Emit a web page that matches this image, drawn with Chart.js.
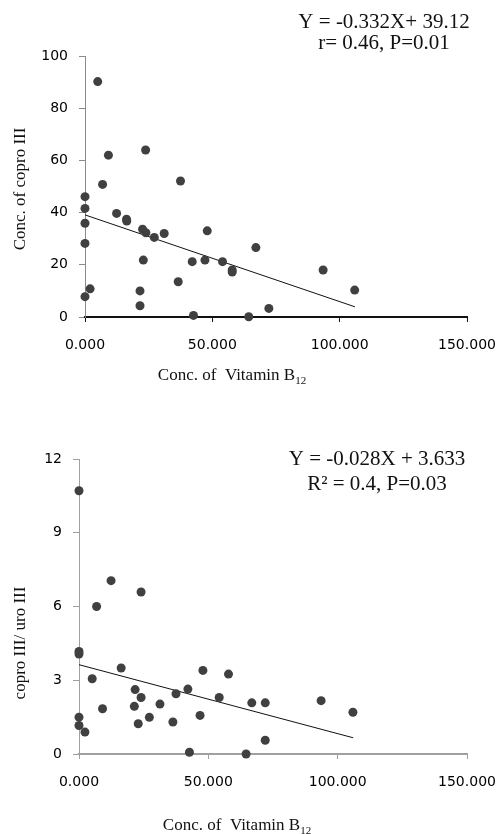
<!DOCTYPE html>
<html>
<head>
<meta charset="utf-8">
<script src="https://cdn.jsdelivr.net/npm/chart.js@4.4.1/dist/chart.umd.min.js"></script>
<style>
  html, body { margin: 0; padding: 0; background: #fff; }
  body { width: 498px; height: 834px; position: relative; overflow: hidden; }
  canvas { position: absolute; left: 0; }
  #top-chart { top: 0; }
  #bottom-chart { top: 417px; }
</style>
</head>
<body>
<canvas id="top-chart" width="498" height="417"></canvas>
<canvas id="bottom-chart" width="498" height="417"></canvas>
<script>
// top panel: vitamin B12 vs copro III
const b12Top = [0, 0, 0, 0, 0, 2.0, 5.0, 6.9, 9.2, 12.4, 16.3, 16.4, 22.6, 23.8, 23.9, 22.9, 21.6, 21.6,
  27.2, 31.1, 36.6, 37.5, 42.1, 42.6, 47.1, 48.0, 54.0, 57.8, 57.8, 64.3, 67.1, 72.2, 93.5, 105.9];
const coproIII = [46.1, 41.6, 35.9, 28.2, 7.8, 10.8, 90.2, 50.8, 62.0, 39.7, 37.5, 36.8, 33.6, 64.0, 32.3, 21.8, 10.0, 4.3,
  30.5, 32.0, 13.5, 52.1, 21.2, 0.6, 21.8, 33.0, 21.2, 18.0, 17.2, 0.1, 26.6, 3.3, 18.0, 10.3];
const fitTopX = [0, 106];
const fitTopY = [39.12, 3.9];

// bottom panel: vitamin B12 vs copro III / uro III
const b12Bottom = [0, 0, 0, 0, 0, 2.3, 5.1, 6.8, 9.1, 12.4, 16.3, 21.7, 21.4, 22.9, 24.0, 24.0, 27.2,
  31.3, 36.3, 37.5, 42.1, 42.7, 46.8, 47.9, 54.2, 57.8, 64.6, 66.8, 72.0, 72.0, 93.6, 105.9];
const ratio = [10.71, 4.17, 4.07, 1.50, 1.16, 0.89, 3.06, 6.0, 1.84, 7.05, 3.5, 2.62, 1.94, 1.23, 2.30, 6.59, 1.49,
  2.03, 1.30, 2.45, 2.64, 0.07, 1.57, 3.40, 2.30, 3.25, 0, 2.08, 2.08, 0.56, 2.17, 1.70];
const fitBottomX = [0, 106];
const fitBottomY = [3.633, 0.66];

const xTicks = [0, 50, 100, 150];
const yTicksTop = [0, 20, 40, 60, 80, 100];
const yTicksBottom = [0, 3, 6, 9, 12];

const tickFont = { family: "DejaVu Sans", size: 14 };
const serif = '"Liberation Serif", "Times New Roman", serif';

const pts = (xs, ys) => xs.map((x, i) => ({ x: x, y: ys[i] }));

// text drawn on top: equations and axis titles
const textPlugin = {
  id: "texts",
  afterDraw(chart, args, opts) {
    const ctx = chart.ctx;
    ctx.save();
    ctx.fillStyle = "#111";
    ctx.textAlign = "center";
    ctx.textBaseline = "alphabetic";
    ctx.font = "21px " + serif;
    opts.eq.forEach((line, i) => {
      ctx.fillText(line, opts.eqX, opts.eqY[i]);
    });

    // x title with subscript
    ctx.font = "17px " + serif;
    const main = "Conc. of  Vitamin B";
    const w1 = ctx.measureText(main).width;
    ctx.font = "11px " + serif;
    const w2 = ctx.measureText("12").width;
    let x0 = opts.xTitleX - (w1 + w2) / 2;
    ctx.textAlign = "left";
    ctx.font = "17px " + serif;
    ctx.fillText(main, x0, opts.xTitleY);
    ctx.font = "11px " + serif;
    ctx.fillText("12", x0 + w1, opts.xTitleY + 4);

    // y title rotated
    ctx.translate(opts.yTitleX, opts.yTitleY);
    ctx.rotate(-Math.PI / 2);
    ctx.textAlign = "center";
    ctx.font = "17px " + serif;
    ctx.fillText(opts.yTitle, 0, 0);
    ctx.restore();
  }
};

function buildScales(yTicks, yColor, xColor, xHeight) {
  return {
    x: {
      type: "linear",
      min: 0,
      max: 150,
      afterBuildTicks: (s) => { s.ticks = xTicks.map((v) => ({ value: v })); },
      afterFit: (s) => { s.height = xHeight; s.paddingLeft = 0; s.paddingRight = 0; },
      border: { color: xColor, width: 2 },
      grid: { drawOnChartArea: false, drawTicks: true, tickLength: 5, color: xColor },
      ticks: { font: tickFont, color: "#000", padding: 15, maxRotation: 0,
        callback: (v) => Number(v).toFixed(3) }
    },
    y: {
      type: "linear",
      min: yTicks[0],
      max: yTicks[yTicks.length - 1],
      afterBuildTicks: (s) => { s.ticks = yTicks.map((v) => ({ value: v })); },
      afterFit: (s) => { s.width = s.chart.options.plugins.texts.axisLeft; s.paddingTop = 0; s.paddingBottom = 0; },
      border: { color: yColor, width: 1 },
      grid: { drawOnChartArea: false, drawTicks: true, tickLength: 6, color: yColor },
      ticks: { font: tickFont, color: "#000", padding: 11 }
    }
  };
}

function buildDatasets(xs, ys, fx, fy) {
  return [
    {
      type: "scatter",
      data: pts(xs, ys),
      pointRadius: 4.5,
      pointHoverRadius: 4.5,
      pointBackgroundColor: "#404040",
      pointBorderWidth: 0,
      clip: false
    },
    {
      type: "line",
      data: pts(fx, fy),
      borderColor: "#111",
      borderWidth: 1,
      pointRadius: 0,
      fill: false
    }
  ];
}

new Chart("top-chart", {
  type: "scatter",
  data: { datasets: buildDatasets(b12Top, coproIII, fitTopX, fitTopY) },
  options: {
    responsive: false,
    animation: false,
    layout: { padding: { top: 56, right: 31, bottom: 0, left: 0 } },
    scales: buildScales(yTicksTop, "#8a8a8a", "#111", 100),
    plugins: {
      legend: { display: false },
      tooltip: { enabled: false },
      texts: {
        axisLeft: 85,
        eq: ["Y = -0.332X+ 39.12", "r= 0.46, P=0.01"],
        eqX: 384, eqY: [28, 49],
        xTitleX: 232, xTitleY: 380,
        yTitle: "Conc. of copro III", yTitleX: 25, yTitleY: 189
      }
    }
  },
  plugins: [textPlugin]
});

new Chart("bottom-chart", {
  type: "scatter",
  data: { datasets: buildDatasets(b12Bottom, ratio, fitBottomX, fitBottomY) },
  options: {
    responsive: false,
    animation: false,
    layout: { padding: { top: 42, right: 31, bottom: 0, left: 0 } },
    scales: buildScales(yTicksBottom, "#a0a0a0", "#a0a0a0", 80),
    plugins: {
      legend: { display: false },
      tooltip: { enabled: false },
      texts: {
        axisLeft: 79,
        eq: ["Y = -0.028X + 3.633", "R\u00b2 = 0.4, P=0.03"],
        eqX: 377, eqY: [48, 73],
        xTitleX: 237, xTitleY: 413,
        yTitle: "copro III/ uro III", yTitleX: 25, yTitleY: 226
      }
    }
  },
  plugins: [textPlugin]
});
</script>
</body>
</html>
